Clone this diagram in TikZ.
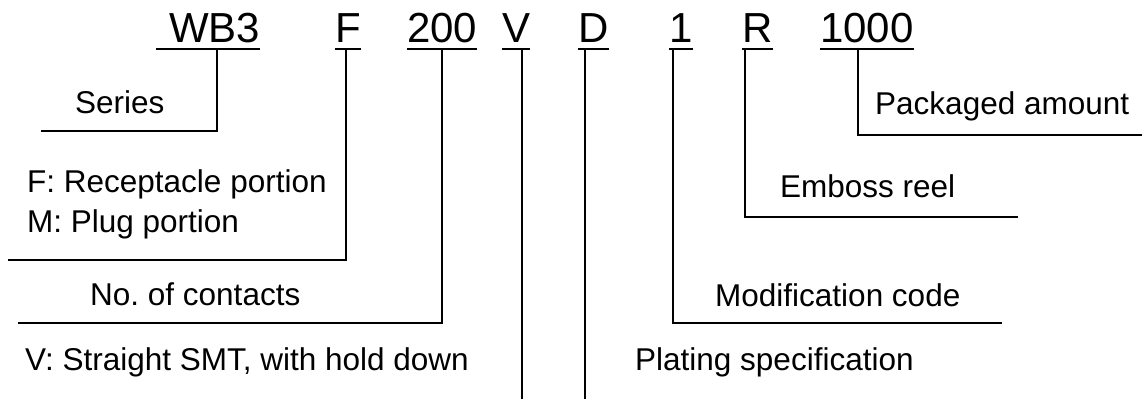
\documentclass[tikz,border=0pt]{standalone}
\usepackage{fontspec}
\setmainfont{Liberation Sans}
\frenchspacing
\begin{document}
\begin{tikzpicture}[x=1pt,y=-1pt,
  code/.style={anchor=base west,inner sep=0pt,font=\fontsize{42}{48}\selectfont},
  lbl/.style={anchor=base west,inner sep=0pt,font=\fontsize{31.5}{36}\selectfont},
  uline/.style={line width=2.8pt},
  lead/.style={line width=1.4pt}]
\useasboundingbox (0,0) rectangle (1142,399);
% code segments
\node[code] (wb3) at (169,42) {WB3};
\node[code] (f) at (335,42) {F};
\node[code] (n200) at (407,42) {200};
\node[code] (v) at (502,42) {V};
\node[code] (d) at (578,42) {D};
\node[code] (one) at (669,42) {1};
\node[code] (r) at (742,42) {R};
\node[code] (amt) at (820,42) {1000};
% underlines
\draw[uline] ([xshift=-13pt,yshift=-7pt]wb3.base west) -- ([yshift=-7pt]wb3.base east);
\foreach \n in {f,n200,v,d,one,r,amt}
  \draw[uline] ([yshift=-7pt]\n.base west) -- ([yshift=-7pt]\n.base east);
% labels
\node[lbl] (series) at (75,113) {Series};
\node[lbl] (frec) at (27,192) {F: Receptacle portion};
\node[lbl] (mplug) at (27,232) {M: Plug portion};
\node[lbl] (nocont) at (90,305) {No.\ of contacts};
\node[lbl] (vsmt) at (25,370) {V: Straight SMT, with hold down};
\node[lbl] (plat) at (635,370) {Plating specification};
\node[lbl] (modc) at (715,306) {Modification code};
\node[lbl] (emb) at (780,197) {Emboss reel};
\node[lbl] (pack) at (875,114) {Packaged amount};
% leader coordinates
\coordinate (a1) at (217,49);  \coordinate (a2) at (41,131);
\coordinate (b1) at (346,49);  \coordinate (b2) at (8,260);
\coordinate (c1) at (442,49);  \coordinate (c2) at (18,323);
\coordinate (d1) at (522,49);  \coordinate (d2) at (522,399);
\coordinate (e1) at (585,49);  \coordinate (e2) at (585,399);
\coordinate (g1) at (673,49);  \coordinate (g2) at (1002,323);
\coordinate (h1) at (745,49);  \coordinate (h2) at (1018,217);
\coordinate (k1) at (858,49);  \coordinate (k2) at (1142,135);
\draw[lead] (a1) |- (a2);
\draw[lead] (b1) |- (b2);
\draw[lead] (c1) |- (c2);
\draw[lead] (d1) -- (d2);
\draw[lead] (e1) -- (e2);
\draw[lead] (g1) |- (g2);
\draw[lead] (h1) |- (h2);
\draw[lead] (k1) |- (k2);
\end{tikzpicture}
\end{document}
